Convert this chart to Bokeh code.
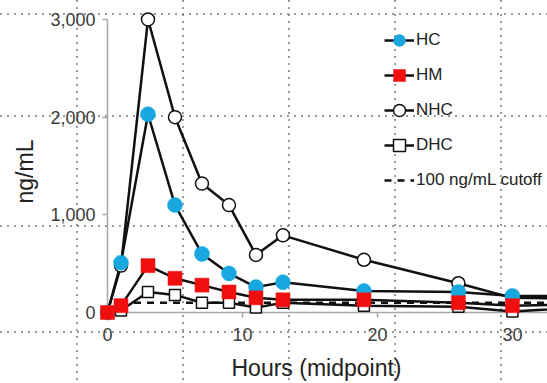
import math
from bokeh.plotting import figure
from bokeh.models import Range1d, Legend, LegendItem, NumeralTickFormatter, FixedTicker
from bokeh.core.properties import value
from bokeh.embed import file_html
from bokeh.resources import INLINE

# ---- data ----
hours = [0, 1, 3, 5, 7, 9, 11, 13, 19, 26, 30, 36]
hc = [0, 510, 2030, 1100, 600, 400, 260, 310, 220, 210, 170, 165]
hm = [0, 70, 480, 350, 280, 210, 150, 130, 130, 100, 70, 85]
nhc = [0, 480, 3000, 2000, 1320, 1100, 590, 790, 540, 300, 150, 140]
dhc = [0, 20, 210, 180, 100, 100, 50, 100, 70, 60, 10, 60]
cutoff_x = [1, 36]
cutoff_y = [100, 100]
x_ticks = [0, 10, 20, 30]
y_ticks = [0, 1000, 2000, 3000]
x_title = "Hours (midpoint)"
y_title = "ng/mL"

FONT = "Liberation Sans"
BLUE = "#19a7e0"
RED = "#f00f0f"
INK = "#111111"
AXIS = "#a8a8a8"
TXT = "#3c3c3c"

W, H = 547, 383
B_LEFT, B_BOTTOM = 107, 71
X_END, Y_END = 32.6, 3194.5
frame_w, frame_h = W - B_LEFT, H - B_BOTTOM
x_per_px = X_END / frame_w
y_per_px = Y_END / frame_h

p = figure(width=W, height=H, output_backend="svg", toolbar_location=None,
           x_range=Range1d(0, X_END), y_range=Range1d(0, Y_END),
           min_border_left=B_LEFT, min_border_right=0, min_border_top=0,
           min_border_bottom=B_BOTTOM)
p.title.visible = False
p.background_fill_color = None
p.border_fill_color = None
p.outline_line_color = None
p.grid.visible = False

# faint dotted page guides behind the chart (page decoration)
hy = [13, 115, 225, 331]
vx = [76, 182, 288, 394, 500]
dot = "rgba(120,120,120,0.75)"
imgs, pos, sizes, reps = [], [], [], []
for y in hy:
    imgs.append(f"linear-gradient(to right, {dot} 0px, {dot} 2px, transparent 2px)")
    pos.append(f"0px {y}px"); sizes.append("7px 1.5px"); reps.append("repeat-x")
for x in vx:
    imgs.append(f"linear-gradient(to bottom, {dot} 0px, {dot} 2px, transparent 2px)")
    pos.append(f"{x}px 0px"); sizes.append("1.5px 7px"); reps.append("repeat-y")
p.styles = {"background-image": ", ".join(imgs),
            "background-position": ", ".join(pos),
            "background-size": ", ".join(sizes),
            "background-repeat": ", ".join(reps)}

# axes
for ax in (p.xaxis[0], p.yaxis[0]):
    ax.axis_line_color = AXIS
    ax.axis_line_width = 1.5
    ax.major_tick_line_color = AXIS
    ax.major_tick_line_width = 1.5
    ax.major_tick_out = 5
    ax.major_tick_in = 0
    ax.minor_tick_line_color = None
    ax.major_label_text_font = FONT
    ax.major_label_text_font_size = "18px"
    ax.major_label_text_color = TXT

p.xaxis.ticker = FixedTicker(ticks=x_ticks)
p.yaxis.ticker = FixedTicker(ticks=y_ticks)
p.yaxis.formatter = NumeralTickFormatter(format="0,0")
p.yaxis.bounds = (0, 3000)
p.xaxis.major_label_standoff = 10
p.yaxis.major_label_standoff = 7

LV = "overlay"
# axis titles, placed by pixel offsets from the frame's lower-left corner
p.text(x=[(316 - B_LEFT) * x_per_px], y=[-(367 - frame_h) * y_per_px], text=[x_title],
       text_font=value(FONT), text_font_size=value("23px"), text_color="#222222",
       text_align=value("center"), text_baseline=value("middle"), level=LV)
p.text(x=[(24 - B_LEFT) * x_per_px], y=[(frame_h - 171) * y_per_px], text=[y_title],
       angle=math.pi / 2, text_font=value(FONT), text_font_size=value("23px"),
       text_color="#222222", text_align=value("center"), text_baseline=value("middle"),
       level=LV)

# series (drawn so that HM ends on top)
r_nhc_l = p.line(hours, nhc, line_color=INK, line_width=2.5, level=LV)
r_dhc_l = p.line(hours, dhc, line_color=INK, line_width=2.5, level=LV)
r_cut = p.line(cutoff_x, cutoff_y, line_color=INK, line_width=2.5, line_dash="7 6", level=LV)
r_hc_l = p.line(hours, hc, line_color=INK, line_width=2.5, level=LV)
r_hm_l = p.line(hours, hm, line_color=INK, line_width=2.5, level=LV)
r_nhc_m = p.scatter(hours, nhc, marker="circle", size=13, fill_color="white",
                    line_color=INK, line_width=1.5, level=LV)
r_dhc_m = p.scatter(hours, dhc, marker="square", size=11, fill_color="white",
                    line_color=INK, line_width=1.5, level=LV)
r_hc_m = p.scatter(hours, hc, marker="circle", size=15, fill_color=BLUE,
                   line_color=BLUE, line_width=0.5, level=LV)
r_hm_m = p.scatter(hours, hm, marker="square", size=14, fill_color=RED,
                   line_color=RED, line_width=0.5, level=LV)

legend = Legend(items=[
    LegendItem(label="HC", renderers=[r_hc_l, r_hc_m]),
    LegendItem(label="HM", renderers=[r_hm_l, r_hm_m]),
    LegendItem(label="NHC", renderers=[r_nhc_l, r_nhc_m]),
    LegendItem(label="DHC", renderers=[r_dhc_l, r_dhc_m]),
    LegendItem(label="100 ng/mL cutoff", renderers=[r_cut]),
], location=(277, 116))
legend.padding = 0
legend.margin = 0
legend.border_line_alpha = 0
legend.background_fill_alpha = 0
legend.glyph_width = 30
legend.glyph_height = 32
legend.spacing = 3
legend.label_standoff = 2
legend.label_text_font = FONT
legend.label_text_font_size = "17px"
legend.label_text_color = "#222222"
p.add_layout(legend)

open("out.html", "w").write(file_html(p, INLINE))
